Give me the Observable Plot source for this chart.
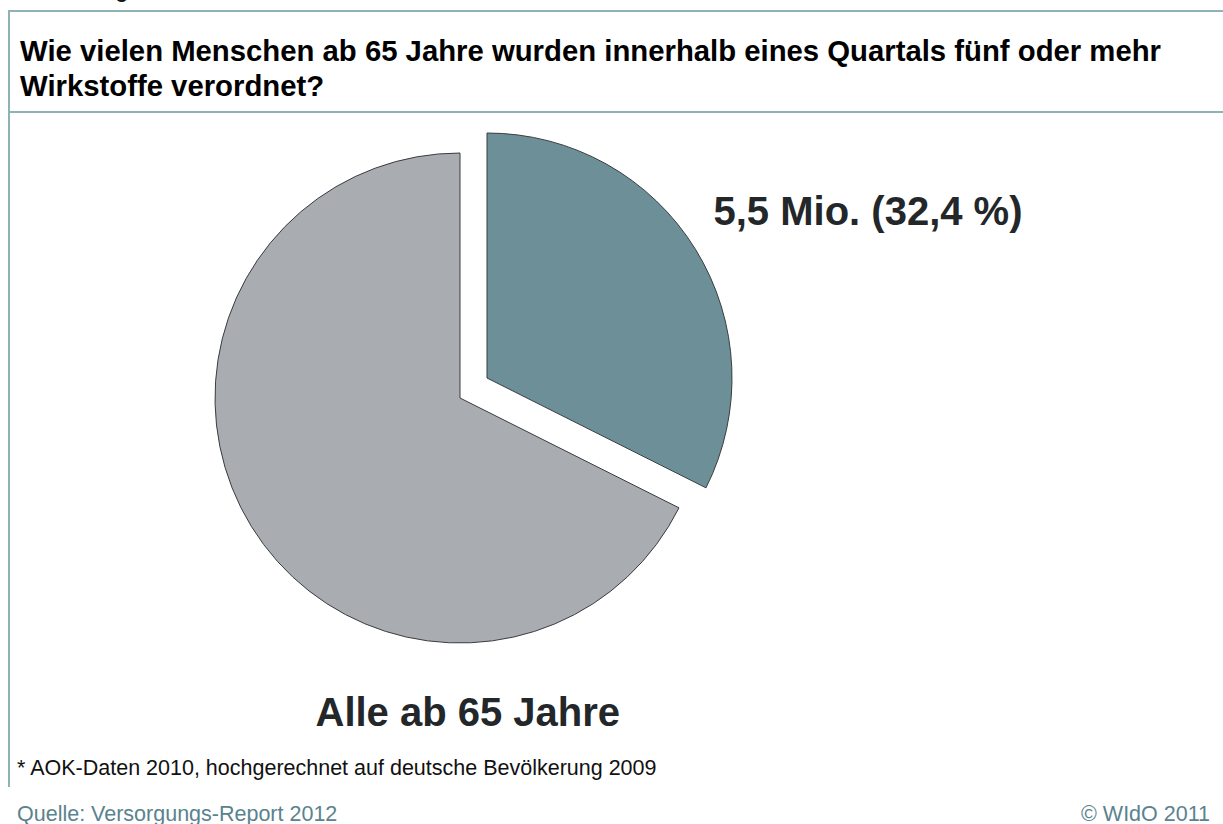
<!DOCTYPE html>
<html>
<head>
<meta charset="utf-8">
<script src="https://cdn.jsdelivr.net/npm/d3@7"></script>
<script src="https://cdn.jsdelivr.net/npm/@observablehq/plot@0.6"></script>
<style>
  html, body { margin: 0; padding: 0; background: #ffffff; }
  body { width: 1223px; height: 824px; position: relative; overflow: hidden;
         font-family: "Liberation Sans", Arial, Helvetica, sans-serif; }
  .abs { position: absolute; white-space: nowrap; }
  #cut { left: 29px; top: -19px; font-size: 20px; font-weight: bold; line-height: 20px; color: #111; }
  .hline { position: absolute; left: 8px; right: 0; height: 2px; background: #8fb2b9; }
  .vline { position: absolute; left: 8px; width: 2px; background: #8fb2b9; }
  #title { left: 20px; top: 33px; font-size: 29.3px; font-weight: bold; line-height: 35px; color: #000; }
  #chart { position: absolute; left: 0; top: 113px; }
  #note { left: 17px; top: 758px; font-size: 21.5px; line-height: 21.5px; color: #111; }
  #source { left: 17px; top: 804px; font-size: 21.5px; line-height: 21.5px; color: #5a838d; }
  #copy { right: 13px; top: 804px; font-size: 21.5px; line-height: 21.5px; color: #5a838d; }
</style>
</head>
<body>
<div id="cut" class="abs">Abbildung</div>
<div class="hline" style="top:10px"></div>
<div class="hline" style="top:111px"></div>
<div class="vline" style="top:10px; height:777px"></div>
<div id="title" class="abs">Wie vielen Menschen ab 65 Jahre wurden innerhalb eines Quartals fünf oder mehr<br>Wirkstoffe verordnet?</div>
<div id="chart"></div>
<div id="note" class="abs">* AOK-Daten 2010, hochgerechnet auf deutsche Bevölkerung 2009</div>
<div id="source" class="abs">Quelle: Versorgungs-Report 2012</div>
<div id="copy" class="abs">© WIdO 2011</div>
<script>
// ---- data ----
const categories = ["Fünf oder mehr Wirkstoffe", "Alle ab 65 Jahre"];
const shares = [32.4, 67.6];
const labels = ["5,5 Mio. (32,4 %)", "Alle ab 65 Jahre"];
const colors = ["#6d8f97", "#a9acb1"];

// ---- layout (pixels inside the svg) ----
const PIE = { cx: 460, cy: 285, r: 245 };
const EXPLODE = [[27, -20], [0, 0]];
const LABEL_POS = [[713, 99], [315, 600]];

const data = categories.map((c, i) => ({ category: c, share: shares[i], label: labels[i] }));
const labelData = data.map((d, i) => ({ ...d, lx: LABEL_POS[i][0], ly: LABEL_POS[i][1] }));

const pieMark = (index, scales) => {
  const cx = scales.x(PIE.cx), cy = scales.y(PIE.cy);
  const r = scales.x(PIE.cx + PIE.r) - cx;
  const arcs = d3.pie().sort(null).value(d => d.share)(data);
  const arc = d3.arc().innerRadius(0).outerRadius(r);
  const g = d3.create("svg:g");
  g.selectAll("path").data(arcs).join("path")
    .attr("d", arc)
    .attr("transform", (d, i) => `translate(${cx + EXPLODE[i][0]},${cy + EXPLODE[i][1]})`)
    .attr("fill", d => scales.color(d.data.category))
    .attr("stroke", "#3a3d40")
    .attr("stroke-width", 1)
    .attr("stroke-linejoin", "miter");
  return g.node();
};

const W = 1223, H = 640;
const plot = Plot.plot({
  width: W, height: H, margin: 0,
  style: { fontFamily: '"Liberation Sans", Arial, sans-serif', background: "transparent", overflow: "visible" },
  x: { domain: [0, W], range: [0, W], axis: null },
  y: { domain: [0, H], range: [0, H], axis: null },
  color: { domain: categories, range: colors },
  marks: [
    pieMark,
    Plot.text(labelData, {
      x: "lx", y: "ly", text: "label", textAnchor: "start",
      fontSize: 40, fontWeight: "bold", fill: "#23272a"
    })
  ]
});
document.getElementById("chart").appendChild(plot);
</script>
</body>
</html>
